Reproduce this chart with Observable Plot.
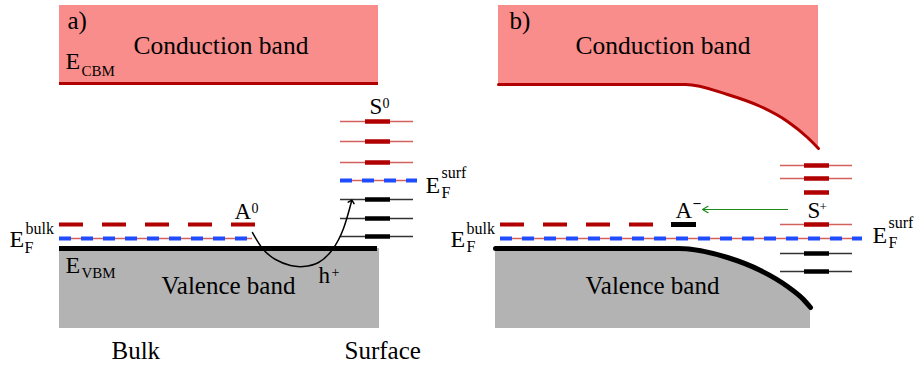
<!DOCTYPE html>
<html>
<head>
<meta charset="utf-8">
<script src="https://cdn.jsdelivr.net/npm/d3@7"></script>
<script src="https://cdn.jsdelivr.net/npm/@observablehq/plot@0.6"></script>
<style>
  html, body { margin: 0; padding: 0; background: #fff; }
  #chart svg { display: block; }
</style>
</head>
<body>
<div id="chart"></div>
<script>
// Band diagram: (a) flat bands, (b) bands bent at the surface.
// Coordinates are in diagram units (x to the right, y downward = lower energy).

// Flat band blocks of panel (a)
const conductionA = [{x1: 59, x2: 378, y1: 5, y2: 84}];
const valenceA = [{x1: 59, x2: 379, y1: 248, y2: 328}];

// Band edges
const cbmEdgeA = [{x1: 59, x2: 378, y: 83}];
const vbmEdgeA = [{x1: 59, x2: 377, y: 248}];
const cbEdgeB = [[498, 84], [685, 84], [727, 94], [760, 106], [787, 121], [807, 137], [818, 148]];
const vbEdgeB = [[495, 248], [678, 248], [727, 257], [760, 270], [787, 286], [803, 299], [810, 307]];
const cbTopB = 5;
const vbBottomB = 328;

// Surface states: y level, charge type ("empty" = red, "filled" = black), thin extent drawn or not
const surfaceStatesA = [
  {y: 121, type: "empty", wire: true},
  {y: 141, type: "empty", wire: true},
  {y: 162, type: "empty", wire: true},
  {y: 199, type: "filled", wire: true},
  {y: 218, type: "filled", wire: true},
  {y: 236, type: "filled", wire: true}
];
const surfaceStatesB = [
  {y: 165, type: "empty", wire: true},
  {y: 178, type: "empty", wire: true},
  {y: 192, type: "empty", wire: false},
  {y: 224, type: "empty", wire: true},
  {y: 253, type: "filled", wire: true},
  {y: 271, type: "filled", wire: true}
];
const stateSpanA = {wire: [340, 413], core: [365, 390]};
const stateSpanB = {wire: [780, 852], core: [804, 829]};

// Fermi levels
const fermiLevels = [
  {x1: 59, x2: 252, y: 238},
  {x1: 340, x2: 417, y: 180},
  {x1: 500, x2: 862, y: 238}
];
// Acceptor levels (dashed) and the ionised acceptor A⁻
const acceptorLevels = [
  {x1: 59, x2: 256, y: 224},
  {x1: 500, x2: 654, y: 224}
];
const ionisedAcceptor = [{x1: 671, x2: 696, y: 224}];

// Hole transfer path A⁰ → surface (panel a)
const holePath = [[252, 232], [262, 248], [275, 259], [290, 265], [303, 266], [318, 262], [332, 249], [343, 228], [351, 201]];
// Electron transfer S⁺ → A⁻ (panel b)
const electronTransfer = [{x1: 787, x2: 702, y: 209}];

// Text pieces: left x, baseline y, text, size
const labels = [
  {x: 67, y: 28, text: "a)", size: 25},
  {x: 509, y: 28, text: "b)", size: 25},
  {x: 133, y: 53, text: "Conduction band", size: 25.5},
  {x: 575, y: 53, text: "Conduction band", size: 25.5},
  {x: 65, y: 68, text: "E", size: 24},
  {x: 81, y: 75, text: "CBM", size: 15},
  {x: 369, y: 113, text: "S", size: 23},
  {x: 382, y: 107, text: "0", size: 14},
  {x: 425, y: 192, text: "E", size: 24},
  {x: 441, y: 177, text: "surf", size: 16},
  {x: 441, y: 197, text: "F", size: 16},
  {x: 234, y: 218, text: "A", size: 23},
  {x: 251, y: 212, text: "0", size: 14},
  {x: 9, y: 246, text: "E", size: 24},
  {x: 25, y: 233, text: "bulk", size: 16},
  {x: 24, y: 252, text: "F", size: 16},
  {x: 65, y: 272, text: "E", size: 24},
  {x: 81, y: 277, text: "VBM", size: 15},
  {x: 161, y: 293, text: "Valence band", size: 25},
  {x: 318, y: 282, text: "h", size: 23},
  {x: 331, y: 276, text: "+", size: 14},
  {x: 111, y: 358, text: "Bulk", size: 25},
  {x: 344, y: 358, text: "Surface", size: 25},
  {x: 675, y: 217, text: "A", size: 23},
  {x: 807, y: 217, text: "S", size: 23},
  {x: 819, y: 210, text: "+", size: 13},
  {x: 450, y: 246, text: "E", size: 24},
  {x: 466, y: 233, text: "bulk", size: 16},
  {x: 466, y: 251, text: "F", size: 16},
  {x: 872, y: 242, text: "E", size: 24},
  {x: 888, y: 227, text: "surf", size: 16},
  {x: 888, y: 247, text: "F", size: 16},
  {x: 585, y: 293, text: "Valence band", size: 25}
];
const minusSign = [{x: 693, y: 206}];

const PINK = "#f98d8b";
const DARKRED = "#b00000";
const WIRE_RED = "#d4605e";
const GRAY = "#b3b3b3";
const BLUE = "#1f4cff";
const SERIF = "Liberation Serif";

function stateMarks(states, span) {
  const wired = states.filter(d => d.wire);
  return [
    Plot.ruleY(wired, {x1: span.wire[0], x2: span.wire[1], y: "y",
      stroke: d => d.type === "empty" ? WIRE_RED : "#333", strokeWidth: 1.3}),
    Plot.ruleY(states, {x1: span.core[0], x2: span.core[1], y: "y",
      stroke: d => d.type === "empty" ? DARKRED : "#000", strokeWidth: 4.5})
  ];
}

const chart = Plot.plot({
  width: 916,
  height: 367,
  margin: 0,
  x: {domain: [0, 916], range: [0, 916], axis: null},
  y: {domain: [0, 367], range: [0, 367], axis: null},
  style: {background: "#fff"},
  marks: [
    // Bands
    Plot.rect(conductionA, {x1: "x1", x2: "x2", y1: "y1", y2: "y2", fill: PINK}),
    Plot.rect(valenceA, {x1: "x1", x2: "x2", y1: "y1", y2: "y2", fill: GRAY}),
    Plot.areaY(cbEdgeB, {x: d => d[0], y1: cbTopB, y2: d => d[1], fill: PINK, curve: "monotone-x"}),
    Plot.areaY(vbEdgeB, {x: d => d[0], y1: d => d[1], y2: vbBottomB, fill: GRAY, curve: "monotone-x"}),
    // Band edges
    Plot.ruleY(cbmEdgeA, {x1: "x1", x2: "x2", y: "y", stroke: DARKRED, strokeWidth: 3}),
    Plot.ruleY(vbmEdgeA, {x1: "x1", x2: "x2", y: "y", stroke: "#000", strokeWidth: 5}),
    Plot.line(cbEdgeB, {x: d => d[0], y: d => d[1], stroke: DARKRED, strokeWidth: 3, curve: "monotone-x"}),
    Plot.line(vbEdgeB, {x: d => d[0], y: d => d[1], stroke: "#000", strokeWidth: 5, curve: "monotone-x"}),
    // Surface states
    ...stateMarks(surfaceStatesA, stateSpanA),
    ...stateMarks(surfaceStatesB, stateSpanB),
    // Acceptor levels
    Plot.ruleY(acceptorLevels, {x1: "x1", x2: "x2", y: "y", stroke: DARKRED, strokeWidth: 4, strokeDasharray: "24 19"}),
    Plot.ruleY(ionisedAcceptor, {x1: "x1", x2: "x2", y: "y", stroke: "#000", strokeWidth: 5}),
    // Fermi levels
    Plot.ruleY(fermiLevels, {x1: "x1", x2: "x2", y: "y", stroke: WIRE_RED, strokeWidth: 1.5}),
    Plot.ruleY(fermiLevels, {x1: "x1", x2: "x2", y: "y", stroke: BLUE, strokeWidth: 4, strokeDasharray: "12 10"}),
    // Charge transfer
    Plot.line(holePath, {x: d => d[0], y: d => d[1], stroke: "#000", strokeWidth: 1.5, curve: "natural", markerEnd: "arrow"}),
    Plot.arrow(electronTransfer, {x1: "x1", x2: "x2", y1: "y", y2: "y", stroke: "#1a8a1a", strokeWidth: 1.2, headLength: 8}),
    // Labels
    Plot.text(labels, {x: "x", y: "y", text: "text", fontSize: "size", textAnchor: "start", lineAnchor: "bottom",
      fontFamily: SERIF, fill: "#000"}),
    Plot.text(minusSign, {x: "x", y: "y", text: () => "\u2013", fontSize: 14, fontWeight: "bold", textAnchor: "start",
      lineAnchor: "bottom", fontFamily: SERIF, fill: "#000"})
  ]
});

document.getElementById("chart").appendChild(chart);
</script>
</body>
</html>
